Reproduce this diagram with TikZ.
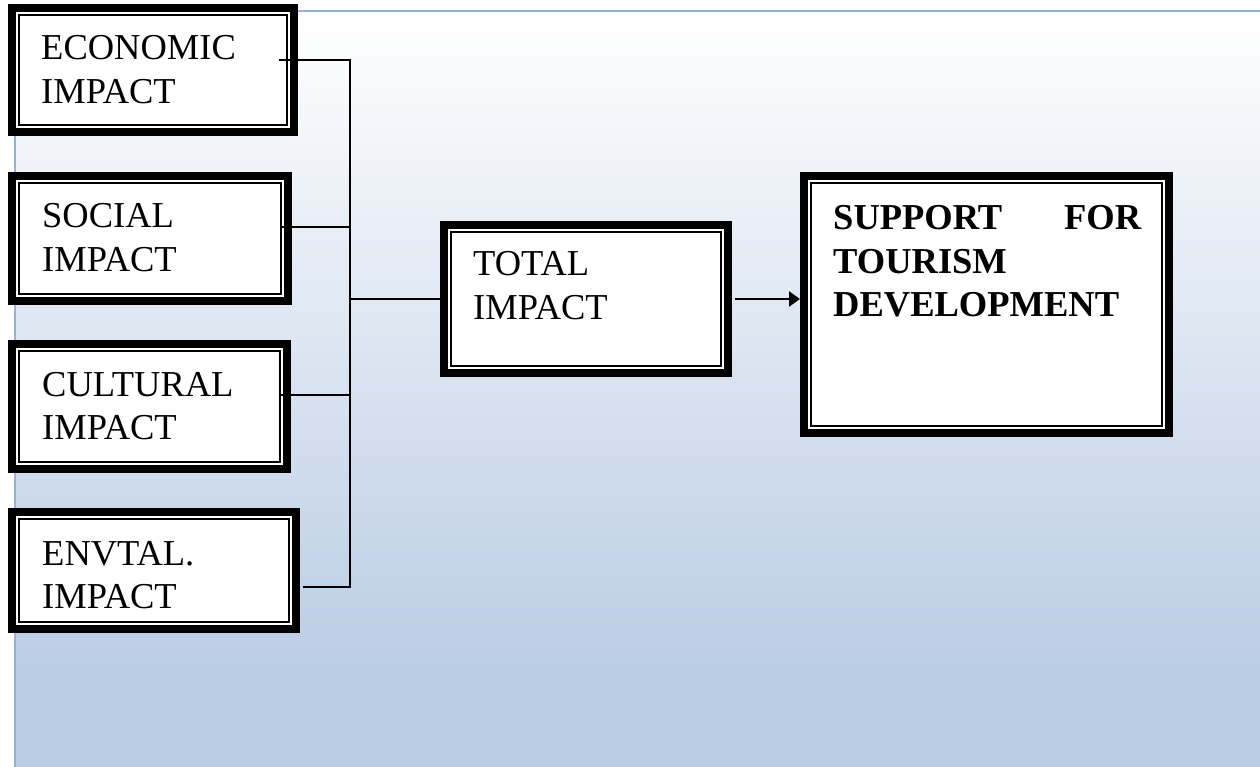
\documentclass[tikz,border=0pt]{standalone}
\usepackage{fontspec}
\setmainfont{Liberation Serif}
\newfontfamily\tnr{Liberation Serif}
\usetikzlibrary{arrows.meta}
\definecolor{bgblue}{RGB}{186,204,228}
\definecolor{edgeblue}{RGB}{149,179,215}
\pgfdeclareverticalshading{bgshade}{100bp}{color(0bp)=(bgblue); color(31bp)=(bgblue); color(75bp)=(white); color(100bp)=(white)}
\begin{document}
\begin{tikzpicture}[x=1pt,y=-1pt,
  ibox/.style={draw, line width=8pt, fill=white, rectangle, inner sep=0pt, outer sep=0pt},
  innerline/.style={draw, line width=1.8pt},
  lbl/.style={anchor=base west, inner sep=0pt, text width=#1, align=left,
    font=\tnr\fontsize{36.5}{43.5}\selectfont},
  conn/.style={line width=1.5pt},
  arr/.style={line width=2.4pt, -{Triangle[length=11pt,width=15pt]}}]
\useasboundingbox (0,0) rectangle (1260,767);
% background
\shade[shading=bgshade] (15,11) rectangle (1260,767);
\draw[edgeblue, line width=2.2pt] (1260,11) -- (15,11) -- (15,767);
% boxes
\node[ibox, minimum width=282pt, minimum height=124pt] (eco) at (153,70) {};
\node[ibox, minimum width=276pt, minimum height=125pt] (soc) at (150,238.5) {};
\node[ibox, minimum width=275pt, minimum height=125pt] (cul) at (149.5,406.5) {};
\node[ibox, minimum width=284pt, minimum height=117pt] (env) at (154,570.5) {};
\node[ibox, minimum width=284pt, minimum height=148pt] (tot) at (586,299) {};
\node[ibox, minimum width=365pt, minimum height=257pt] (sup) at (986.5,304.5) {};
\foreach \n in {eco,soc,cul,env,tot,sup}
  \draw[innerline] ([shift={(7,7)}]\n.north west) rectangle ([shift={(-7,-7)}]\n.south east);
% texts
\node[lbl=260pt] (ecot) at (41,60) {ECONOMIC\\IMPACT};
\node[lbl=240pt] (soct) at (42,228) {SOCIAL\\IMPACT};
\node[lbl=240pt] (cult) at (42,396) {CULTURAL\\IMPACT};
\node[lbl=240pt] (envt) at (42,565) {ENVTAL.\\IMPACT};
\node[lbl=240pt] (tott) at (473,276) {TOTAL\\IMPACT};
\node[lbl=308pt, font=\tnr\fontsize{36.5}{43.5}\selectfont\bfseries] (supt) at (833,230)
  {SUPPORT\hfill FOR\\TOURISM\\DEVELOPMENT};
% connectors
\coordinate (bus) at (350,299);
\coordinate (ecoS) at ([shift={(-15,-10)}]eco.east);
\coordinate (socS) at ([shift={(-8,-11.5)}]soc.east);
\coordinate (culS) at ([shift={(-6,-11.5)}]cul.east);
\coordinate (envS) at ([shift={(7,16.5)}]env.east);
\draw[conn] (ecoS) -| (bus);
\draw[conn] (envS) -| (bus);
\draw[conn] (socS) -- (socS -| bus);
\draw[conn] (culS) -- (culS -| bus);
\draw[conn] (bus) -- (tot.west);
\path (tot.east -| sup.west) coordinate (supin);
\draw[arr] ([xshift=7pt]tot.east) -- ([xshift=-4pt]supin);
\end{tikzpicture}
\end{document}
